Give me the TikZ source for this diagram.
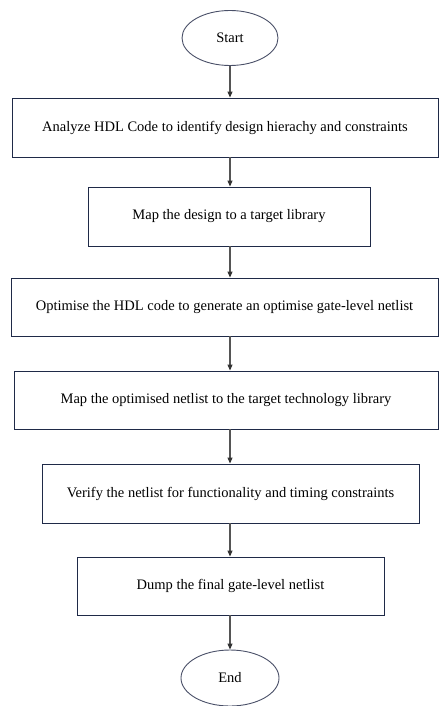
\documentclass[tikz,border=0pt]{standalone}
\usepackage{fontspec}
\setmainfont{Liberation Serif}
\usetikzlibrary{shapes.geometric,arrows.meta}
\definecolor{boxline}{HTML}{1F2A48}
\definecolor{ovalline}{HTML}{4A5068}
\definecolor{arrowline}{HTML}{555555}
\tikzset{
  stepbox/.style={draw=boxline,line width=0.9pt,rectangle,inner sep=0pt,
    font=\fontsize{14.5}{17}\selectfont},
  oval/.style={draw=ovalline,line width=0.9pt,ellipse,inner sep=0pt,
    font=\fontsize{14.5}{17}\selectfont},
  flow/.style={draw=arrowline,line width=1.1pt,
    -{Triangle[length=6pt,width=5pt,color=black!80]}}
}
\begin{document}
\begin{tikzpicture}[x=1pt,y=-1pt]
\useasboundingbox (0,0) rectangle (439,706);
\node[oval,minimum width=96,minimum height=55] (start) at (230,38) {Start};
\node[stepbox,minimum width=426,minimum height=59] (analyze) at (225,127.5)
  {Analyze HDL Code to identify design hierachy and constraints};
\node[stepbox,minimum width=282,minimum height=59] (map) at (229,216.5)
  {Map the design to a target library};
\node[stepbox,minimum width=427,minimum height=58] (optimise) at (224.5,307)
  {Optimise the HDL code to generate an optimise gate-level netlist};
\node[stepbox,minimum width=424,minimum height=58] (techmap) at (226,400)
  {Map the optimised netlist to the target technology library};
\node[stepbox,minimum width=377,minimum height=59] (verify) at (230.5,493.5)
  {Verify the netlist for functionality and timing constraints};
\node[stepbox,minimum width=307,minimum height=58] (dump) at (230.5,586)
  {Dump the final gate-level netlist};
\node[oval,minimum width=98,minimum height=56] (end) at (230,678) {End};
% connectors
\draw[flow] (start.south) -- (start.south |- analyze.north);
\draw[flow] (start.south |- analyze.south) -- (start.south |- map.north);
\draw[flow] (start.south |- map.south) -- (start.south |- optimise.north);
\draw[flow] (start.south |- optimise.south) -- (start.south |- techmap.north);
\draw[flow] (start.south |- techmap.south) -- (start.south |- verify.north);
\draw[flow] (start.south |- verify.south) -- (start.south |- dump.north);
\draw[flow] (start.south |- dump.south) -- (end.north);
\end{tikzpicture}
\end{document}
